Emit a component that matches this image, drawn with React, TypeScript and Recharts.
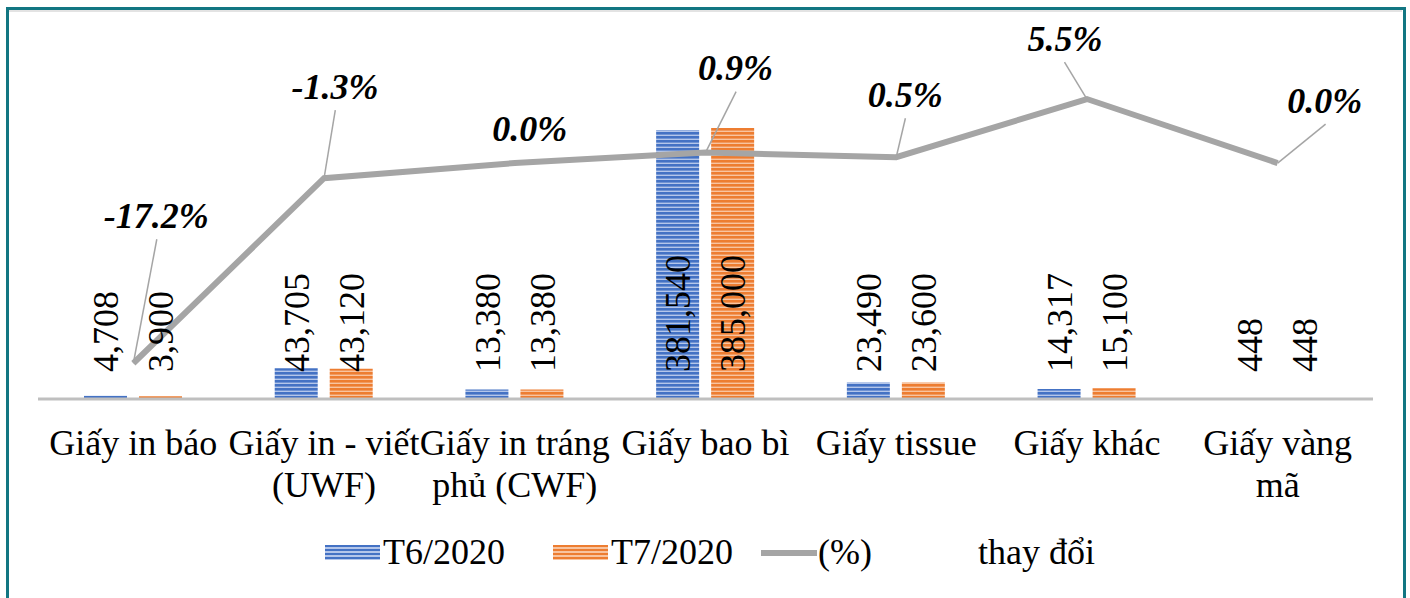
import { Bar, ComposedChart, LabelList, Line, XAxis, YAxis } from "recharts";

const categories = [
  "Giấy in báo",
  "Giấy in - viết\n(UWF)",
  "Giấy in tráng\nphủ (CWF)",
  "Giấy bao bì",
  "Giấy tissue",
  "Giấy khác",
  "Giấy vàng\nmã",
];
const t6 = [4708, 43705, 13380, 381540, 23490, 14317, 448];
const t7 = [3900, 43120, 13380, 385000, 23600, 15100, 448];
const pct = [-17.2, -1.3, 0.0, 0.9, 0.5, 5.5, 0.0];
const pctLabels = ["-17.2%", "-1.3%", "0.0%", "0.9%", "0.5%", "5.5%", "0.0%"];

const data = categories.map((name, i) => ({ name, t6: t6[i], t7: t7[i], pct: pct[i], pctLabel: pctLabels[i] }));

// where each % label sits relative to its point (dx, dy), and whether a leader line is drawn
const pctOffsets: [number, number, boolean][] = [
  [23, -148, true],
  [11, -92, true],
  [15, -35, false],
  [30, -85, true],
  [9, -63, true],
  [-22, -61, true],
  [47, -63, true],
];

const FONT = "'Liberation Serif', 'Times New Roman', serif";
const BLUE = "#4472c4";
const ORANGE = "#ed7d31";
const GREY = "#a5a5a5";

function CategoryTick(props: any) {
  const { x, y, payload } = props;
  const lines = String(payload.value).split("\n");
  return (
    <g>
      {lines.map((l, i) => (
        <text key={i} x={x} y={y + 56 + i * 42} textAnchor="middle" fontFamily={FONT} fontSize={36} fill="#000">
          {l}
        </text>
      ))}
    </g>
  );
}

function ValueLabel(props: any) {
  const { x, width, value } = props;
  const cx = Number(x) + Number(width) / 2;
  const y = 372;
  return (
    <text
      x={cx}
      y={y}
      transform={`rotate(-90, ${cx}, ${y})`}
      textAnchor="start"
      dy="0.35em"
      fontFamily={FONT}
      fontSize={36}
      fill="#000"
    >
      {Number(value).toLocaleString("en-US")}
    </text>
  );
}

function PctLabel(props: any) {
  const { x, y, index, value } = props;
  const [dx, dy, leader] = pctOffsets[index];
  const lx = x + dx;
  const ly = y + dy;
  return (
    <g>
      {leader && (
        <line x1={x} y1={y} x2={x + dx * 1.02} y2={ly + 24} stroke={GREY} strokeWidth={1.5} />
      )}
      <text
        x={lx}
        y={ly}
        dy="0.35em"
        textAnchor="middle"
        fontFamily={FONT}
        fontSize={36}
        fontWeight="bold"
        fontStyle="italic"
        fill="#000"
      >
        {pctLabels[index] ?? value}
      </text>
    </g>
  );
}

function Swatch({ color, light }: { color: string; light: string }) {
  return (
    <span
      style={{
        display: "inline-block",
        width: 55,
        height: 15,
        background: `repeating-linear-gradient(180deg, ${color} 0px, ${color} 2.5px, ${light} 2.5px, ${light} 4px)`,
      }}
    />
  );
}

export default function App() {
  const legendText = { position: "absolute" as const, top: 530, fontFamily: FONT, fontSize: 36, color: "#000", lineHeight: "44px" };
  return (
    <div style={{ position: "absolute", left: 0, top: 0, width: 1410, height: 598, background: "#fff", overflow: "hidden" }}>
      <div style={{ position: "absolute", left: 6, top: 7, width: 1400, height: 600, borderTop: "3px solid #127682", borderLeft: "3px solid #127682", borderRight: "3px solid #127682", boxSizing: "border-box" }} />
      <div style={{ position: "absolute", left: 9, top: 10, width: 1393, height: 2, background: "#e3e3e3" }} />
      <ComposedChart
        width={1410}
        height={598}
        data={data}
        margin={{ top: 30, left: 38, right: 37, bottom: 79 }}
        barSize={43}
        barGap={12}
        style={{ position: "absolute", left: 0, top: 0 }}
      >
        <defs>
          <pattern id="stripeBlue" width={4} height={4} patternUnits="userSpaceOnUse">
            <rect width={4} height={4} fill={BLUE} />
            <rect y={2.6} width={4} height={1.4} fill="#b4c6ea" />
          </pattern>
          <pattern id="stripeOrange" width={4} height={4} patternUnits="userSpaceOnUse">
            <rect width={4} height={4} fill={ORANGE} />
            <rect y={2.6} width={4} height={1.4} fill="#f8c4a0" />
          </pattern>
        </defs>
        <XAxis
          dataKey="name"
          height={120}
          interval={0}
          tickLine={false}
          tickSize={0}
          tickMargin={0}
          axisLine={{ stroke: "#bfbfbf", strokeWidth: 3 }}
          tick={<CategoryTick />}
        />
        <YAxis yAxisId="val" hide domain={[0, 524000]} />
        <YAxis yAxisId="pct" hide orientation="right" domain={[-20.27, 11.43]} />
        <Bar yAxisId="val" dataKey="t6" fill="url(#stripeBlue)" isAnimationActive={false}>
          <LabelList dataKey="t6" content={<ValueLabel />} />
        </Bar>
        <Bar yAxisId="val" dataKey="t7" fill="url(#stripeOrange)" isAnimationActive={false}>
          <LabelList dataKey="t7" content={<ValueLabel />} />
        </Bar>
        <Line
          yAxisId="pct"
          dataKey="pct"
          type="linear"
          stroke={GREY}
          strokeWidth={6}
          dot={false}
          activeDot={false}
          isAnimationActive={false}
        >
          <LabelList dataKey="pct" content={<PctLabel />} />
        </Line>
      </ComposedChart>
      <div style={{ position: "absolute", left: 325, top: 545 }}>
        <Swatch color={BLUE} light="#b4c6ea" />
      </div>
      <span style={{ ...legendText, left: 383 }}>T6/2020</span>
      <div style={{ position: "absolute", left: 553, top: 545 }}>
        <Swatch color={ORANGE} light="#f8c4a0" />
      </div>
      <span style={{ ...legendText, left: 611 }}>T7/2020</span>
      <div style={{ position: "absolute", left: 761, top: 550, width: 56, height: 6, background: GREY }} />
      <span style={{ ...legendText, left: 818 }}>(%)</span>
      <span style={{ ...legendText, left: 978 }}>thay đổi</span>
    </div>
  );
}
